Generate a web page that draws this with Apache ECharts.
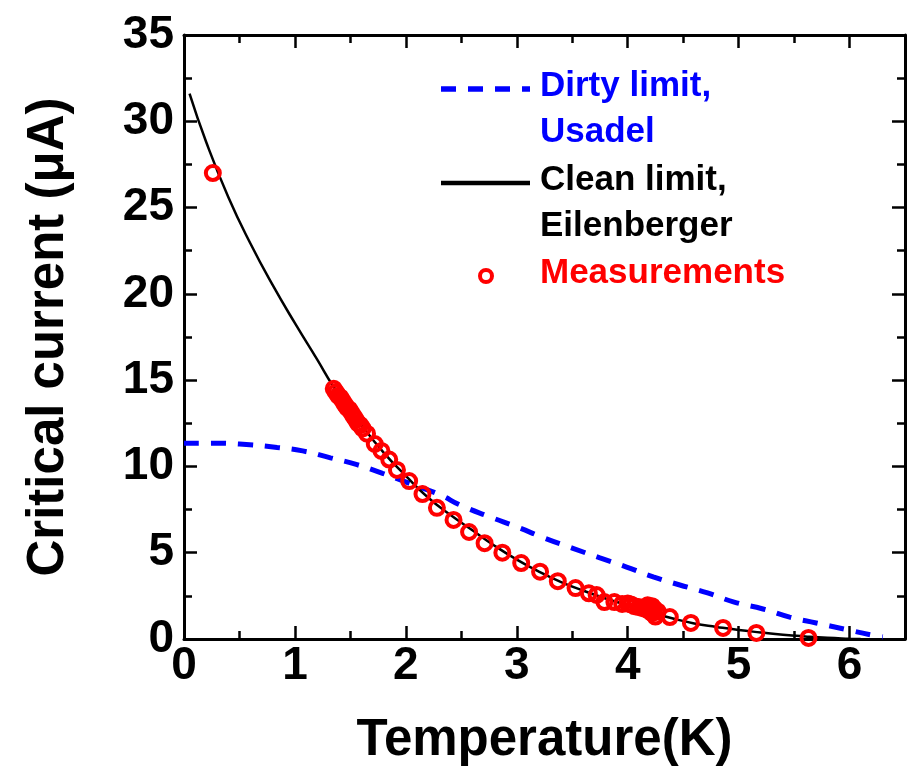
<!DOCTYPE html>
<html><head><meta charset="utf-8">
<script src="https://cdn.jsdelivr.net/npm/echarts@6/dist/echarts.min.js"></script>
<style>html,body{margin:0;padding:0;background:#fff}#c{width:912px;height:778px}</style>
</head><body><div id="c"></div>
<script>
// Axis
const xTicks = [0, 1, 2, 3, 4, 5, 6];
const yTicks = [0, 5, 10, 15, 20, 25, 30, 35];
const xName = 'Temperature(K)';
const yName = 'Critical current (\u03bcA)';

// Clean limit, Eilenberger (black solid)
const cleanT = [0.05, 0.2, 0.4, 0.6, 0.8, 1.0, 1.2, 1.35, 1.6, 1.8, 2.0, 2.2, 2.4, 2.6, 2.8, 3.0, 3.2, 3.4, 3.6, 3.8, 4.0, 4.2, 4.4, 4.6, 4.8, 5.0, 5.2, 5.4, 5.6, 5.8, 6.0, 6.1];
const cleanI = [31.6, 28.8, 25.6, 22.9, 20.5, 18.3, 16.2, 14.6, 12.4, 10.8, 9.45, 8.2, 7.2, 6.3, 5.4, 4.6, 3.9, 3.3, 2.8, 2.35, 1.95, 1.55, 1.2, 0.9, 0.7, 0.52, 0.38, 0.25, 0.15, 0.07, 0.02, 0];

// Dirty limit, Usadel (blue dashed)
const dirtyT = [0, 0.26, 0.5, 0.84, 1.07, 1.32, 1.56, 1.79, 2.04, 2.31, 2.49, 2.76, 3.0, 3.25, 3.5, 3.75, 3.99, 4.23, 4.47, 4.72, 4.96, 5.22, 5.46, 5.70, 5.95, 6.2, 6.3];
const dirtyI = [11.35, 11.35, 11.3, 11.1, 10.9, 10.5, 10.1, 9.6, 9.0, 8.35, 7.76, 7.07, 6.5, 5.85, 5.27, 4.7, 4.17, 3.6, 3.13, 2.67, 2.14, 1.74, 1.27, 0.93, 0.58, 0.23, 0.12];

// Measurements (red circles)
const measT = [0.26, 1.35, 1.37, 1.39, 1.41, 1.43, 1.45, 1.47, 1.49, 1.51, 1.53, 1.55, 1.57, 1.59, 1.61, 1.65, 1.72, 1.78, 1.85, 1.92, 2.03, 2.15, 2.28, 2.43, 2.57, 2.71, 2.87, 3.04, 3.21, 3.37, 3.53, 3.65, 3.72, 3.79, 3.88, 3.95, 4.0, 4.03, 4.06, 4.1, 4.13, 4.16, 4.18, 4.2, 4.22, 4.24, 4.25, 4.27, 4.22, 4.18, 4.38, 4.57, 4.86, 5.16, 5.63];
const measI = [27.0, 14.5, 14.3, 14.1, 14.0, 13.8, 13.6, 13.4, 13.3, 13.1, 12.9, 12.7, 12.5, 12.4, 12.2, 11.9, 11.3, 10.9, 10.4, 9.8, 9.15, 8.4, 7.6, 6.9, 6.2, 5.55, 5.0, 4.4, 3.9, 3.35, 2.95, 2.65, 2.55, 2.14, 2.14, 2.03, 2.05, 2.0, 1.9, 1.85, 1.8, 1.75, 1.7, 1.6, 1.5, 1.75, 1.3, 1.6, 1.9, 1.95, 1.27, 0.93, 0.64, 0.35, 0.06];

const legendLabels = [['Dirty limit,', 'Usadel'], ['Clean limit,', 'Eilenberger'], ['Measurements']];

const FONT = '"Liberation Sans", Arial, sans-serif';
const zip = (a, b) => a.map((v, i) => [v, b[i]]);

const chart = echarts.init(document.getElementById('c'), null, {renderer: 'canvas'});

const axisCommon = {
  axisLine: {show: true, onZero: false, lineStyle: {color: '#000', width: 3}},
  axisTick: {show: true, inside: true, length: 13, lineStyle: {color: '#000', width: 2.5}},
  minorTick: {show: true, splitNumber: 2, length: 8, lineStyle: {color: '#000', width: 2.5}},
  splitLine: {show: false}
};

const legendItems = [];
const lx = 540, lineH = 46;
const legendBase = [89, 183, 276];
const colors = ['#0000ff', '#000000', '#ff0000'];
legendLabels.forEach((lines, k) => {
  lines.forEach((t, j) => {
    legendItems.push({type: 'text', left: lx, top: legendBase[k] - 20 + j * lineH,
      style: {text: t, fill: colors[k], font: 'bold 35px ' + FONT}});
  });
});
legendItems.push({type: 'line', shape: {x1: 441, y1: 89, x2: 530, y2: 89},
  style: {stroke: '#0000ff', lineWidth: 5.5, lineDash: [15, 12]}});
legendItems.push({type: 'line', shape: {x1: 441, y1: 183, x2: 530, y2: 183},
  style: {stroke: '#000', lineWidth: 4.5}});
legendItems.push({type: 'circle', shape: {cx: 486, cy: 276, r: 6},
  style: {stroke: '#ff0000', fill: 'none', lineWidth: 4}});

chart.setOption({
  backgroundColor: '#fff',
  animation: false,
  grid: {left: 184, top: 35, right: 7, bottom: 139, containLabel: false},
  xAxis: [
    Object.assign({}, axisCommon, {
      type: 'value', min: 0, max: 6.5, interval: 1, position: 'bottom',
      name: xName, nameLocation: 'middle', nameGap: 76,
      nameTextStyle: {color: '#000', fontSize: 51, fontWeight: 'bold', fontFamily: FONT},
      axisLabel: {show: true, color: '#000', fontSize: 46, fontWeight: 'bold', fontFamily: FONT, margin: 4,
        showMaxLabel: false, formatter: v => xTicks.includes(v) ? String(v) : ''}
    }),
    Object.assign({}, axisCommon, {
      type: 'value', min: 0, max: 6.5, interval: 1, position: 'top',
      axisLabel: {show: false}
    })
  ],
  yAxis: [
    Object.assign({}, axisCommon, {
      type: 'value', min: 0, max: 35, interval: 5, position: 'left',
      name: yName, nameLocation: 'middle', nameGap: 110, nameRotate: 90,
      nameTextStyle: {color: '#000', fontSize: 51, fontWeight: 'bold', fontFamily: FONT},
      axisLabel: {show: true, color: '#000', fontSize: 46, fontWeight: 'bold', fontFamily: FONT, margin: 10,
        formatter: v => yTicks.includes(v) ? String(v) : ''}
    }),
    Object.assign({}, axisCommon, {
      type: 'value', min: 0, max: 35, interval: 5, position: 'right',
      axisLabel: {show: false}
    })
  ],
  graphic: legendItems,
  series: [
    {name: 'Dirty limit, Usadel', type: 'line', smooth: true, showSymbol: false, symbol: 'none',
      data: zip(dirtyT, dirtyI), z: 2,
      lineStyle: {color: '#0000ff', width: 5, type: [15, 12]}},
    {name: 'Clean limit, Eilenberger', type: 'line', smooth: true, showSymbol: false, symbol: 'none',
      data: zip(cleanT, cleanI), z: 3,
      lineStyle: {color: '#000', width: 2.5}},
    {name: 'Measurements', type: 'scatter', symbol: 'circle', symbolSize: 14,
      data: zip(measT, measI), z: 4,
      itemStyle: {color: 'rgba(0,0,0,0)', borderColor: '#ff0000', borderWidth: 4, opacity: 1}}
  ]
});
</script>
</body></html>
